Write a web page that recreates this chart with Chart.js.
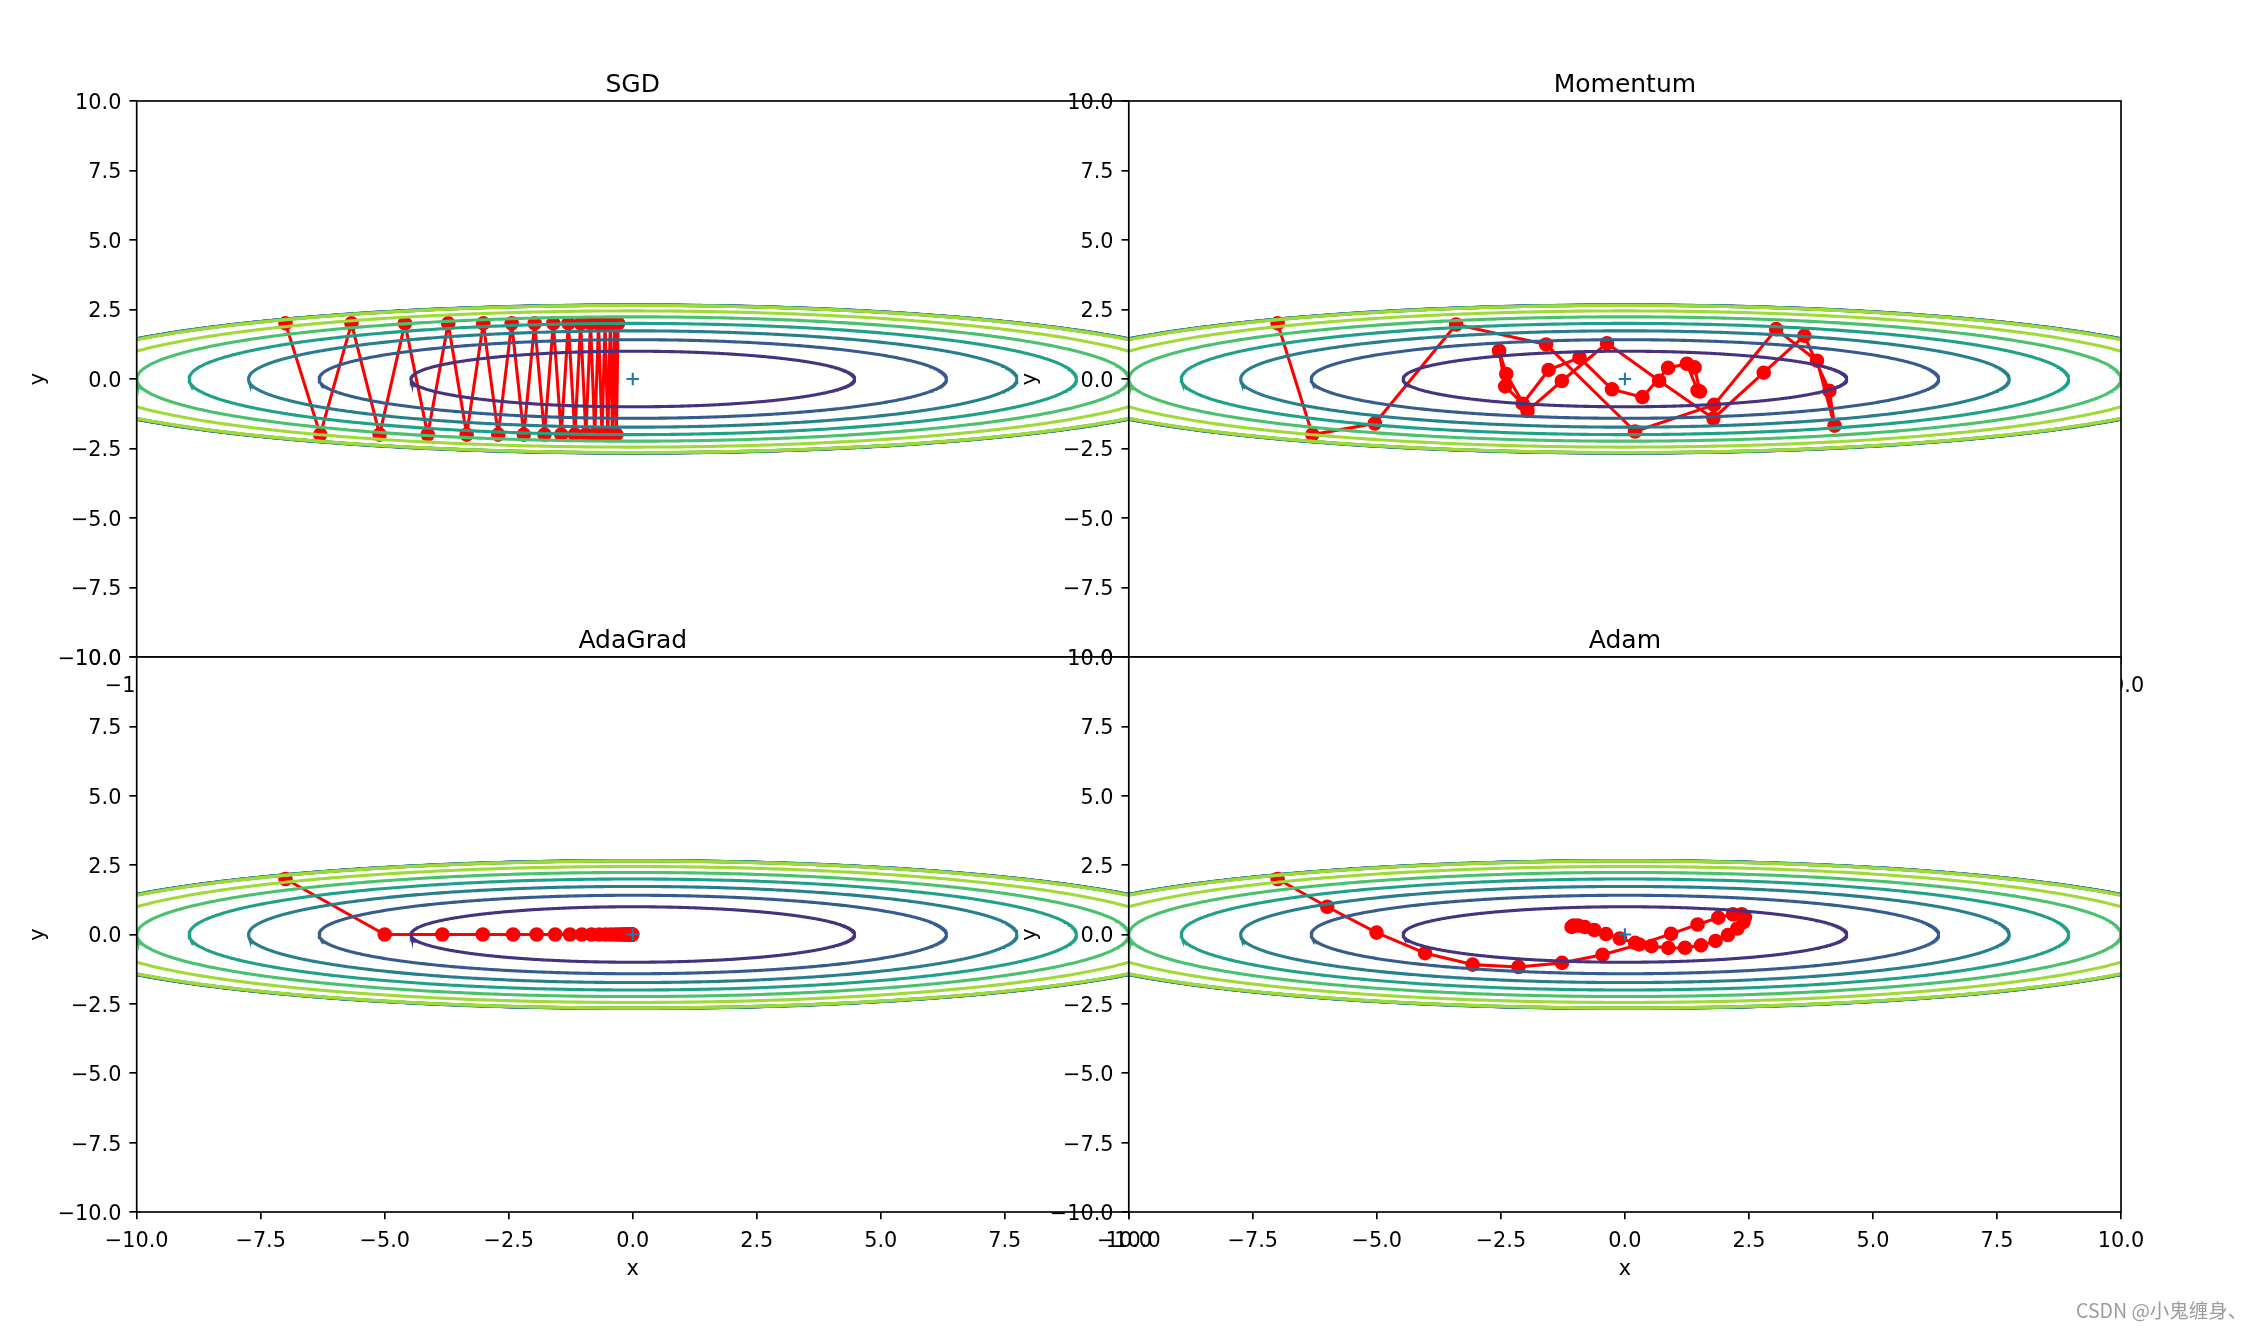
<!DOCTYPE html>
<html>
<head>
<meta charset="utf-8">
<script src="https://cdn.jsdelivr.net/npm/chart.js@4.4.1/dist/chart.umd.min.js"></script>
<style>
html,body{margin:0;padding:0;background:#fff;}
#fig{position:relative;width:2249px;height:1329px;overflow:hidden;background:#fff;}
#fig canvas{position:absolute;left:0;top:0;}
#wm{position:absolute;left:2076px;top:1300px;font-family:"Noto Sans CJK SC","DejaVu Sans",sans-serif;font-size:19.5px;color:#9c9c9c;white-space:nowrap;line-height:1;}
</style>
</head>
<body>
<div id="fig">
<canvas id="c0" width="2249" height="1329"></canvas>
<canvas id="c1" width="2249" height="1329"></canvas>
<canvas id="c2" width="2249" height="1329"></canvas>
<canvas id="c3" width="2249" height="1329"></canvas>
<div id="wm">CSDN @小鬼缠身、</div>
</div>
<script>
// ---------------- data ----------------
const panelTitles = ['SGD', 'Momentum', 'AdaGrad', 'Adam'];
const tickValues = [-10, -7.5, -5, -2.5, 0, 2.5, 5, 7.5, 10];
const tickLabels = ['\u221210.0', '\u22127.5', '\u22125.0', '\u22122.5', '0.0', '2.5', '5.0', '7.5', '10.0'];

// contour levels of f(x,y) = x^2/20 + y^2 (values above 7 masked to 0)
const contourLevels = [1, 2, 3, 4, 5, 6];
const maskLevel = 7;
const contourColors = ['#46327e', '#365c8d', '#277f8e', '#1fa187', '#4ac16d', '#a0da39'];

const sgdX = [-7, -6.3, -5.67, -5.103, -4.5927, -4.1334, -3.7201, -3.3481, -3.0133, -2.7119, -2.4408, -2.1967, -1.977, -1.7793, -1.6014, -1.4412, -1.2971, -1.1674, -1.0507, -0.9456, -0.851, -0.7659, -0.6893, -0.6204, -0.5584, -0.5025, -0.4523, -0.4071, -0.3663, -0.3297, -0.2967];
const sgdY = [2, -2, 2, -2, 2, -2, 2, -2, 2, -2, 2, -2, 2, -2, 2, -2, 2, -2, 2, -2, 2, -2, 2, -2, 2, -2, 2, -2, 2, -2, 2];

const momX = [-7, -6.3, -5.04, -3.402, -1.588, 0.204, 1.796, 3.049, 3.872, 4.226, 4.122, 3.616, 2.798, 1.783, 0.691, -0.361, -1.271, -1.964, -2.391, -2.536, -2.413, -2.061, -1.538, -0.914, -0.26, 0.354, 0.871, 1.249, 1.465, 1.513, 1.404];
const momY = [2, -2, -1.6, 1.96, 1.244, -1.888, -0.931, 1.793, 0.658, -1.679, -0.425, 1.554, 0.227, -1.421, -0.062, 1.285, -0.073, -1.149, 0.18, 1.016, -0.264, -0.888, 0.326, 0.767, -0.37, -0.653, 0.399, 0.548, -0.414, -0.452, 0.417];

const adaX = [-7, -5, -3.8375, -3.0227, -2.4116, -1.9379, -1.564, -1.2656, -1.0259, -0.8325, -0.676, -0.5492, -0.4463, -0.3628, -0.2949, -0.2398, -0.1949, -0.1585, -0.1289, -0.1048, -0.0852, -0.0693, -0.0563, -0.0458, -0.0373, -0.0303, -0.0246, -0.02, -0.0163, -0.0132, -0.0108];
const adaY = [2, 0, 0, 0, 0, 0, 0, 0, 0, 0, 0, 0, 0, 0, 0, 0, 0, 0, 0, 0, 0, 0, 0, 0, 0, 0, 0, 0, 0, 0, 0];

const adamX = [-7, -6, -5.0069, -4.0274, -3.07, -2.1455, -1.2672, -0.4506, 0.2876, 0.9309, 1.4655, 1.882, 2.1775, 2.3545, 2.4208, 2.3876, 2.2681, 2.0764, 1.8271, 1.5344, 1.2125, 0.8751, 0.5353, 0.2056, -0.1027, -0.3795, -0.6164, -0.8072, -0.9478, -1.0366, -1.0743];
const adamY = [2, 1, 0.0678, -0.6718, -1.0846, -1.1709, -1.0222, -0.7276, -0.3584, 0.0235, 0.3607, 0.6052, 0.7295, 0.7309, 0.6264, 0.4438, 0.2164, -0.0206, -0.2328, -0.3913, -0.4771, -0.4844, -0.4197, -0.2992, -0.1452, 0.0168, 0.1618, 0.2688, 0.3242, 0.3235, 0.2718];

const minimumX = [0];
const minimumY = [0];

// ---------------- rendering ----------------
const FONT = 'DejaVu Sans';
Chart.defaults.font.family = FONT;
const FIG_W = 2249, FIG_H = 1329;
const YW = 112, XH = 80, TITLE_SIZE = 25, TITLE_LH = 30, TITLE_PB = 0.5;
const TICK_SIZE = 20.8, LW = 3.1, SPINE = 1.67;

function ellipsePoints(level) {
  const a = Math.sqrt(20 * level), b = Math.sqrt(level), pts = [];
  for (let k = 0; k <= 720; k++) {
    const t = k / 720 * 2 * Math.PI;
    pts.push({x: a * Math.cos(t), y: b * Math.sin(t)});
  }
  return pts;
}

const axesBoxPlugin = {
  id: 'axesBox',
  beforeDraw(chart) {
    const {ctx, chartArea: a} = chart;
    ctx.save();
    ctx.fillStyle = '#ffffff';
    ctx.fillRect(a.left, a.top, a.right - a.left, a.bottom - a.top);
    ctx.restore();
  },
  afterDraw(chart) {
    const {ctx, chartArea: a} = chart;
    ctx.save();
    ctx.strokeStyle = '#000';
    ctx.lineWidth = SPINE;
    ctx.strokeRect(a.left, a.top, a.right - a.left, a.bottom - a.top);
    ctx.restore();
  }
};

function makePanel(canvasId, title, xs, ys, area) {
  const datasets = [];
  let ord = 100;
  datasets.push({
    data: xs.map((x, i) => ({x: x, y: ys[i]})),
    showLine: true, borderColor: '#ff0000', backgroundColor: '#ff0000',
    borderWidth: LW, borderJoinStyle: 'round', tension: 0,
    pointRadius: 6.25, pointBorderWidth: 2.08, pointBorderColor: '#ff0000', pointBackgroundColor: '#ff0000',
    order: ord--, clip: 0
  });
  contourLevels.forEach((lv, i) => {
    datasets.push({
      data: ellipsePoints(lv), showLine: true, borderColor: contourColors[i], borderWidth: LW,
      pointRadius: 0, tension: 0, order: ord--, clip: 0
    });
    // the masked boundary produces every level along the Z=7 ellipse
    datasets.push({
      data: ellipsePoints(maskLevel + (contourLevels.length - lv) * 0.02), showLine: true,
      borderColor: contourColors[i], borderWidth: LW, pointRadius: 0, tension: 0, order: ord--, clip: 0
    });
  });
  datasets.push({
    data: minimumX.map((x, i) => ({x: x, y: minimumY[i]})), showLine: false,
    pointStyle: 'cross', pointRadius: 6.25, pointBorderWidth: 2.08, pointBorderColor: '#1f77b4',
    pointBackgroundColor: '#1f77b4', order: 0, clip: 0
  });

  const tickFont = {family: FONT, size: TICK_SIZE};
  const grid = {display: true, drawOnChartArea: false, drawTicks: true, tickLength: 7.3, color: '#000', lineWidth: SPINE};
  const setTicks = s => { s.ticks = tickValues.map(v => ({value: v})); };
  const fmt = (v, i) => tickLabels[i];

  return new Chart(document.getElementById(canvasId), {
    type: 'scatter',
    data: {datasets: datasets},
    options: {
      responsive: false, animation: false, devicePixelRatio: 1, events: [],
      layout: {padding: {
        left: area.left - YW, right: FIG_W - area.right,
        top: area.top - (TITLE_LH + TITLE_PB), bottom: FIG_H - area.bottom - XH
      }},
      plugins: {
        legend: {display: false}, tooltip: {enabled: false},
        title: {display: true, text: title, color: '#000', fullSize: false,
          font: {family: FONT, size: TITLE_SIZE, weight: 'normal', lineHeight: 1.2},
          padding: {top: 0, bottom: TITLE_PB}}
      },
      scales: {
        x: {
          type: 'linear', position: 'bottom', min: -10, max: 10,
          afterBuildTicks: setTicks, afterFit: s => { s.height = XH; },
          ticks: {font: tickFont, color: '#000', padding: 9.5, maxRotation: 0, autoSkip: false, callback: fmt},
          grid: grid, border: {display: false},
          title: {display: true, text: 'x', color: '#000', font: {family: FONT, size: TICK_SIZE}, padding: {top: 0, bottom: 10.4}}
        },
        y: {
          type: 'linear', position: 'left', min: -10, max: 10,
          afterBuildTicks: setTicks, afterFit: s => { s.width = YW; },
          ticks: {font: tickFont, color: '#000', padding: 8, labelOffset: 2.5, autoSkip: false, callback: fmt},
          grid: grid, border: {display: false},
          title: {display: true, text: 'y', color: '#000', font: {family: FONT, size: TICK_SIZE}, padding: {top: 1.3, bottom: 0}}
        }
      }
    },
    plugins: [axesBoxPlugin]
  });
}

const L = 136.7, M = 1128.8, R = 2121, T = 101, MID = 657, B = 1212;
makePanel('c0', panelTitles[0], sgdX, sgdY, {left: L, right: M, top: T, bottom: MID});
makePanel('c1', panelTitles[1], momX, momY, {left: M, right: R, top: T, bottom: MID});
makePanel('c2', panelTitles[2], adaX, adaY, {left: L, right: M, top: MID, bottom: B});
makePanel('c3', panelTitles[3], adamX, adamY, {left: M, right: R, top: MID, bottom: B});
</script>
</body>
</html>
